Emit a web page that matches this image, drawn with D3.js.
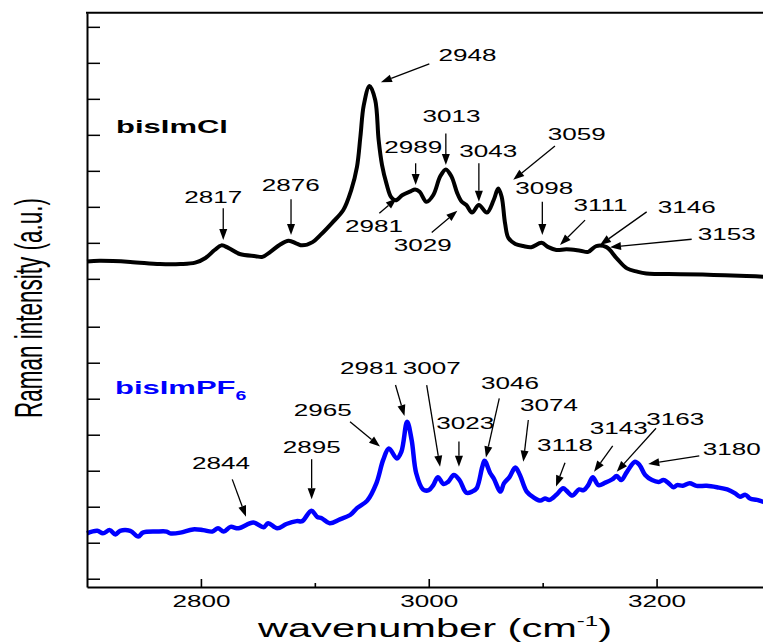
<!DOCTYPE html>
<html>
<head>
<meta charset="utf-8">
<script src="https://d3js.org/d3.v7.min.js"></script>
<style>
  body { margin: 0; background: #fff; }
  svg { display: block; }
  text { font-family: "Liberation Sans", Arial, sans-serif; }
</style>
</head>
<body>
<svg id="chart" width="763" height="643"></svg>
<script>
// bisImCl spectrum (black, upper)
let clWave = [2700, 2711, 2738, 2764, 2782, 2795, 2804, 2812, 2818, 2824, 2834, 2848, 2854, 2861, 2869, 2877, 2884, 2889, 2898, 2905,
  2915, 2925, 2932, 2937, 2940, 2943, 2948, 2953, 2956, 2959, 2963, 2967, 2971, 2977, 2984, 2988, 2992, 2998, 3004, 3010,
  3015, 3020, 3025, 3029, 3033, 3038, 3044, 3051, 3057, 3061, 3064, 3067, 3070, 3076, 3083, 3090, 3099, 3105, 3112, 3121,
  3133, 3140, 3147, 3156, 3165, 3174, 3183, 3191, 3221, 3250, 3279, 3300];
let clInt = [8.81, 8.83, 8.80, 8.74, 8.74, 8.78, 8.91, 9.13, 9.26, 9.19, 9.02, 8.96, 8.94, 9.08, 9.27, 9.39, 9.31, 9.26, 9.35, 9.55,
  9.88, 10.24, 10.80, 11.44, 12.28, 13.16, 13.69, 13.30, 12.19, 11.49, 10.96, 10.60, 10.51, 10.66, 10.76, 10.81, 10.75, 10.47, 10.66, 11.17,
  11.37, 11.17, 10.71, 10.47, 10.38, 10.17, 10.38, 10.17, 10.52, 10.84, 10.61, 9.87, 9.46, 9.30, 9.24, 9.21, 9.33, 9.21, 9.13, 9.15,
  9.11, 9.08, 9.24, 9.21, 8.90, 8.62, 8.53, 8.48, 8.46, 8.44, 8.41, 8.38];

// bisImPF6 spectrum (blue, lower)
let pfWave = [2700, 2709, 2714, 2720, 2725, 2729, 2738, 2745, 2749, 2761, 2770, 2773, 2782, 2793, 2802, 2810, 2815, 2820, 2826, 2833,
  2846, 2855, 2859, 2867, 2875, 2884, 2889, 2897, 2902, 2906, 2913, 2922, 2931, 2937, 2946, 2954, 2960, 2965, 2972, 2976,
  2981, 2985, 2989, 2995, 3000, 3004, 3008, 3013, 3017, 3022, 3027, 3033, 3038, 3042, 3047, 3049, 3054, 3057, 3063, 3066,
  3071, 3076, 3080, 3086, 3092, 3098, 3102, 3106, 3112, 3118, 3121, 3126, 3132, 3136, 3140, 3144, 3149, 3155, 3161, 3165,
  3169, 3174, 3181, 3185, 3190, 3196, 3202, 3206, 3210, 3215, 3218, 3223, 3229, 3235, 3244, 3253, 3262, 3269, 3273, 3278,
  3282, 3288, 3293, 3300];
let pfInt = [1.26, 1.33, 1.26, 1.35, 1.23, 1.33, 1.33, 1.17, 1.28, 1.31, 1.31, 1.26, 1.28, 1.37, 1.35, 1.31, 1.40, 1.31, 1.44, 1.40,
  1.56, 1.43, 1.54, 1.40, 1.52, 1.60, 1.60, 1.89, 1.72, 1.68, 1.54, 1.65, 1.77, 1.96, 2.17, 2.65, 3.30, 3.62, 3.34, 3.53,
  4.36, 3.85, 2.93, 2.48, 2.46, 2.60, 2.82, 2.63, 2.69, 2.88, 2.74, 2.39, 2.42, 2.51, 3.11, 3.28, 2.93, 2.79, 2.42, 2.65,
  2.83, 3.09, 2.88, 2.42, 2.26, 2.17, 2.23, 2.19, 2.33, 2.51, 2.44, 2.31, 2.48, 2.46, 2.60, 2.82, 2.60, 2.67, 2.76, 2.85,
  2.74, 2.97, 3.25, 3.16, 2.88, 2.74, 2.69, 2.74, 2.67, 2.54, 2.60, 2.58, 2.65, 2.58, 2.58, 2.54, 2.48, 2.37, 2.28, 2.33,
  2.23, 2.19, 2.14, 2.10];

let xMajorTicks = [2800, 3000, 3200];
let xMinorTicks = [2900, 3100];
let yTicks = [0, 1, 2, 3, 4, 5, 6, 7, 8.33, 9.33, 10.33, 11.33, 12.33, 13.33, 14.33, 15.33];

// peak labels: [text, label wn, label int, arrow tail wn, tail int, arrow tip wn, tip int]
let clPeaks = [
  ['2948', 3034, 14.39, 3000.5, 14.30, 2958, 13.79],
  ['2989', 2986.4, 11.83, 2988.5, 11.54, 2988.5, 10.94],
  ['3013', 3020, 12.69, 3015, 12.37, 3015, 11.49],
  ['3043', 3052.3, 11.72, 3044, 11.54, 3044, 10.47],
  ['3059', 3130, 12.19, 3110.8, 12.02, 3074.2, 11.08],
  ['3098', 3101.4, 10.68, 3099.7, 10.47, 3099.7, 9.55],
  ['3111', 3150.8, 10.22, 3137.2, 9.96, 3115.2, 9.27],
  ['3146', 3226.4, 10.15, 3191.3, 10.19, 3150.3, 9.27],
  ['3153', 3261.5, 9.41, 3230.8, 9.43, 3159.1, 9.21],
  ['2981', 2951.9, 9.64, 2956.6, 10.15, 2971.9, 10.57],
  ['3029', 2994.8, 9.11, 3002.6, 9.62, 3025.1, 10.22],
  ['2817', 2810.9, 10.44, 2819.6, 10.29, 2819.6, 9.41],
  ['2876', 2878.9, 10.77, 2879.1, 10.54, 2879.1, 9.55]
];
let pfPeaks = [
  ['2844', 2817.6, 3.04, 2827.5, 2.76, 2839.6, 1.72],
  ['2895', 2897.2, 3.50, 2897.2, 3.32, 2897.2, 2.21],
  ['2965', 2907, 4.52, 2930.9, 4.36, 2957.2, 3.67],
  ['2981', 2947.5, 5.69, 2970.8, 5.38, 2978.7, 4.52],
  ['3007', 3002.6, 5.69, 2998.2, 5.38, 3009.9, 3.11],
  ['3023', 3032.1, 4.15, 3026.5, 3.81, 3026.5, 3.11],
  ['3046', 3071.3, 5.27, 3061.9, 5.01, 3050.2, 3.37],
  ['3074', 3105.5, 4.66, 3087.4, 4.41, 3083, 3.25],
  ['3118', 3119.6, 3.56, 3119.6, 3.22, 3111.7, 2.56],
  ['3143', 3166.7, 4.01, 3161.5, 3.69, 3145.1, 2.97],
  ['3163', 3216.4, 4.26, 3199.5, 4.18, 3165, 2.97],
  ['3180', 3265.9, 3.44, 3237.5, 3.41, 3192.7, 3.19]
];

// series names + where they sit (wn, intensity)
let seriesNames = ['bisImCl', 'bisImPF'];
let seriesSub = ['', '6'];
let seriesColors = ['#000000', '#0000ff'];
let seriesLabelAt = [[2725.5, 12.37], [2724.6, 5.13]];

const SX = 1.63; // the original figure is stretched sideways, text too

let svg = d3.select('#chart');
let x = d3.scaleLinear().domain([2700, 3300]).range([87, 770.5]);
let y = d3.scaleLinear().domain([-0.23, 15.72]).range([587, 12.8]);

let line = d3.line().x(d => x(d[0])).y(d => y(d[1])).curve(d3.curveCatmullRom.alpha(0.5));

let clData = clWave.map((w, i) => [w, clInt[i]]);
let pfData = pfWave.map((w, i) => [w, pfInt[i]]);

svg.append('path').datum(clData).attr('d', line)
  .attr('fill', 'none').attr('stroke', seriesColors[0]).attr('stroke-width', 4).attr('stroke-linejoin', 'round');
svg.append('path').datum(pfData).attr('d', line)
  .attr('fill', 'none').attr('stroke', seriesColors[1]).attr('stroke-width', 4.5).attr('stroke-linejoin', 'round');

// axes
let xAxis = svg.append('g').attr('transform', 'translate(0,587)')
  .call(d3.axisBottom(x).tickValues(xMajorTicks).tickSize(-8).tickSizeOuter(0).tickPadding(9).tickFormat(d3.format('d')));
xAxis.select('.domain').attr('stroke-width', 2);
xAxis.selectAll('.tick line').attr('stroke-width', 1.6);
xAxis.selectAll('.tick text')
  .attr('font-size', 16).attr('font-family', '"Liberation Sans", Arial, sans-serif').attr('fill', '#000')
  .attr('transform', 'scale(' + SX + ',1)');

let xMinor = svg.append('g').attr('transform', 'translate(0,587)')
  .call(d3.axisBottom(x).tickValues(xMinorTicks).tickSize(-4).tickSizeOuter(0).tickFormat(''));
xMinor.select('.domain').remove();
xMinor.selectAll('.tick line').attr('stroke-width', 1.6);

let yAxis = svg.append('g').attr('transform', 'translate(87,0)')
  .call(d3.axisLeft(y).tickValues(yTicks).tickSize(-13).tickSizeOuter(0).tickFormat(''));
yAxis.select('.domain').attr('stroke-width', 2);
yAxis.selectAll('.tick line').attr('stroke-width', 1.5);

svg.append('line').attr('x1', 86).attr('x2', 763).attr('y1', y(15.72)).attr('y2', y(15.72))
  .attr('stroke', '#000').attr('stroke-width', 2);

// stretched text helper
function addText(g, px, py, str, size, sx) {
  return g.append('text')
    .attr('transform', 'translate(' + px + ',' + py + ') scale(' + sx + ',1)')
    .attr('font-size', size)
    .attr('text-anchor', 'middle')
    .text(str);
}

// peak annotations
let annG = svg.append('g');
let headLen = 11, headHalf = 4;
function drawPeaks(peaks) {
  peaks.forEach(p => {
    addText(annG, x(p[1]), y(p[2]), p[0], 16, SX).attr('fill', '#000');
    let x0 = x(p[3]), y0 = y(p[4]), x1 = x(p[5]), y1 = y(p[6]);
    let dx = x1 - x0, dy = y1 - y0, len = Math.sqrt(dx * dx + dy * dy);
    let ux = dx / len, uy = dy / len;
    let bx = x1 - ux * headLen, by = y1 - uy * headLen;
    annG.append('line').attr('x1', x0).attr('y1', y0).attr('x2', bx).attr('y2', by)
      .attr('stroke', '#000').attr('stroke-width', 1.3);
    annG.append('polygon')
      .attr('points', [[x1, y1], [bx - uy * headHalf, by + ux * headHalf], [bx + uy * headHalf, by - ux * headHalf]].map(q => q.join(',')).join(' '))
      .attr('fill', '#000');
  });
}
drawPeaks(clPeaks);
drawPeaks(pfPeaks);

// series names
seriesNames.forEach((name, i) => {
  let t = svg.append('text')
    .attr('transform', 'translate(' + x(seriesLabelAt[i][0]) + ',' + y(seriesLabelAt[i][1]) + ') scale(' + SX + ',1)')
    .attr('font-size', 19).attr('font-weight', 'bold').attr('fill', seriesColors[i])
    .text(name);
  if (seriesSub[i]) {
    t.append('tspan').attr('font-size', 12).attr('dy', 6).text(seriesSub[i]);
  }
});

// axis titles
let xt = svg.append('text')
  .attr('transform', 'translate(435,636.7) scale(1.6,1)')
  .attr('font-size', 26).attr('text-anchor', 'middle').attr('fill', '#000');
xt.append('tspan').text('wavenumber (cm');
xt.append('tspan').attr('font-size', 15).attr('dy', -11).text('-1');
xt.append('tspan').attr('dy', 11).text(')');

svg.append('text')
  .attr('transform', 'translate(41.7,308) scale(1.7,1) rotate(-90)')
  .attr('font-size', 22.5).attr('text-anchor', 'middle').attr('fill', '#000')
  .text('Raman intensity (a.u.)');
</script>
</body>
</html>
